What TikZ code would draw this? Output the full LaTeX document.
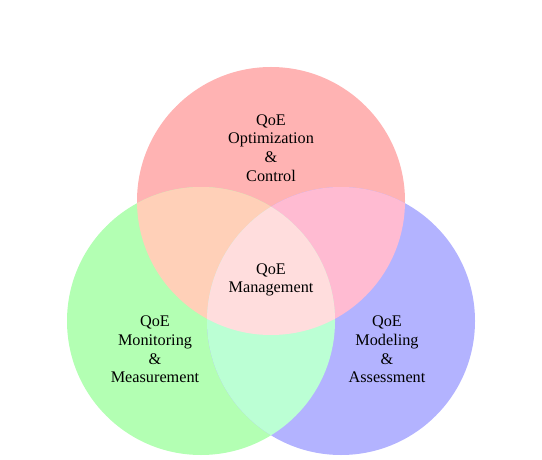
\documentclass[tikz,border=0pt]{standalone}
\usepackage{fontspec}
\setmainfont{Liberation Serif}
\definecolor{cR}{RGB}{255,179,179}
\definecolor{cG}{RGB}{179,255,179}
\definecolor{cB}{RGB}{179,179,255}
\definecolor{cRG}{RGB}{255,208,184}
\definecolor{cRB}{RGB}{255,187,210}
\definecolor{cGB}{RGB}{187,255,212}
\definecolor{cRGB}{RGB}{255,221,221}
\tikzset{
  lbl/.style={align=center, inner sep=0pt, font=\fontsize{16.3}{18.7}\selectfont, text=black},
}
\begin{document}
\begin{tikzpicture}[x=1bp,y=-1bp]
\useasboundingbox (0,0) rectangle (542,460);
\def\rad{134}
\coordinate (cr) at (271,201);
\coordinate (cg) at (201,321);
\coordinate (cb) at (341,321);
% single circles
\fill[cR] (cr) circle (\rad);
\fill[cG] (cg) circle (\rad);
\fill[cB] (cb) circle (\rad);
% pairwise overlaps
\begin{scope}
  \clip (cr) circle (\rad);
  \fill[cRG] (cg) circle (\rad);
  \fill[cRB] (cb) circle (\rad);
\end{scope}
\begin{scope}
  \clip (cg) circle (\rad);
  \fill[cGB] (cb) circle (\rad);
\end{scope}
% triple overlap
\begin{scope}
  \clip (cr) circle (\rad);
  \clip (cg) circle (\rad);
  \fill[cRGB] (cb) circle (\rad);
\end{scope}
% labels
\node[lbl] (opt) at (271,148) {QoE\\Optimization\\\&\\Control};
\node[lbl] (mgmt) at (271,280) {QoE\\Management};
\node[lbl] (mon) at (155,349.5) {QoE\\Monitoring\\\&\\Measurement};
\node[lbl] (mod) at (387,349.5) {QoE\\Modeling\\\&\\Assessment};
\end{tikzpicture}
\end{document}
